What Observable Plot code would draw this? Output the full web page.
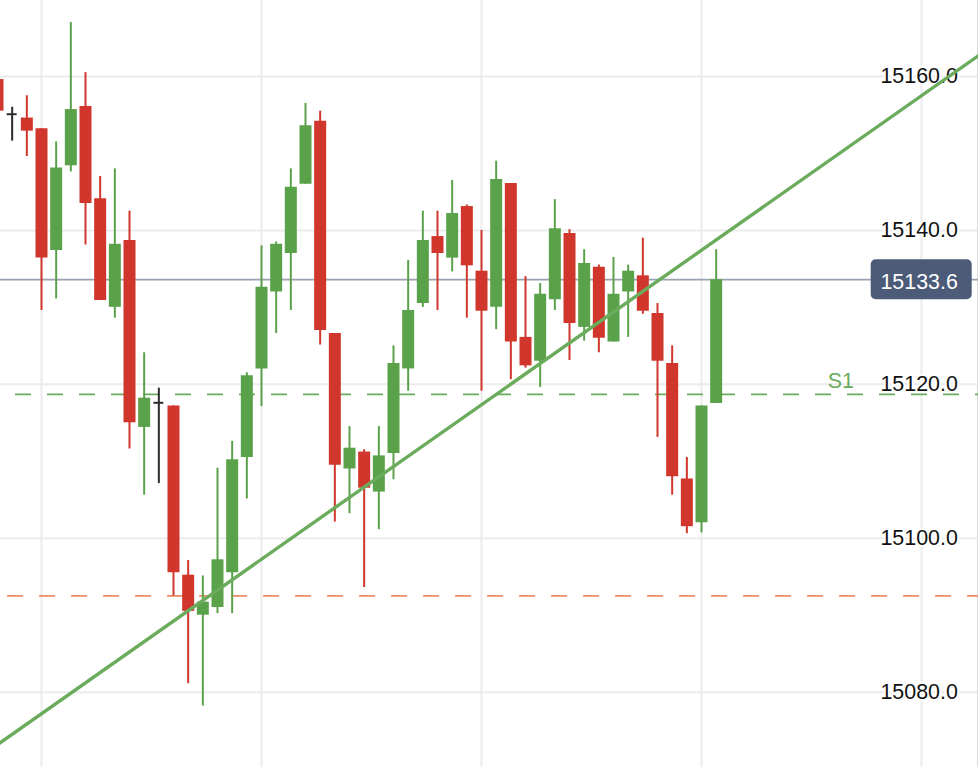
<!DOCTYPE html>
<html><head><meta charset="utf-8">
<script src="https://cdn.jsdelivr.net/npm/d3@7"></script>
<script src="https://cdn.jsdelivr.net/npm/@observablehq/plot@0.6"></script>
<style>html,body{margin:0;padding:0;background:#fff} svg{display:block}</style>
</head><body><div id="chart"></div>
<script>
// OHLC data (one candle per period, index 0..49)
const opens  = [15159.6,15155.1,15154.6,15153.2,15137.4,15148.4,15156.1,15144.1,15130.0,15138.7,
                15114.4,15117.6,15117.2,15095.2,15090.0,15091.0,15095.5,15110.5,15122.0,15132.0,
                15137.0,15146.0,15154.2,15126.6,15109.0,15111.2,15106.0,15111.0,15122.0,15130.5,
                15139.2,15136.4,15143.1,15134.7,15130.0,15146.1,15126.1,15123.0,15131.0,15139.6,
                15127.4,15135.2,15125.5,15132.0,15134.1,15129.2,15122.7,15107.7,15102.0,15117.5];
const highs  = [15159.6,15156.0,15157.5,15153.2,15151.5,15167.0,15160.5,15147.0,15148.0,15142.5,
                15124.1,15119.5,15117.2,15097.1,15095.1,15109.1,15112.6,15121.5,15138.0,15138.5,
                15148.0,15156.5,15155.5,15126.6,15114.5,15111.5,15114.5,15125.0,15136.1,15142.5,
                15142.5,15146.5,15143.3,15140.0,15149.0,15146.1,15134.0,15133.1,15144.0,15140.1,
                15137.5,15135.5,15136.5,15135.5,15139.0,15130.5,15125.0,15110.5,15117.2,15137.5];
const lows   = [15155.5,15151.6,15149.6,15129.6,15131.1,15147.6,15138.1,15130.9,15128.6,15111.6,
                15105.6,15107.1,15092.5,15081.1,15078.2,15090.2,15090.2,15105.1,15117.1,15126.6,
                15129.6,15146.0,15125.1,15102.1,15103.2,15093.6,15101.1,15107.6,15119.1,15130.0,
                15129.6,15134.6,15128.6,15119.1,15127.1,15120.6,15122.1,15119.6,15129.6,15123.1,
                15125.6,15124.1,15125.5,15126.1,15129.1,15113.1,15105.6,15100.6,15100.7,15117.5];
const closes = [15155.5,15155.1,15152.9,15136.4,15148.1,15155.7,15143.5,15130.9,15138.2,15115.0,
                15118.2,15117.6,15095.5,15090.5,15091.7,15097.2,15110.2,15121.1,15132.6,15138.2,
                15145.6,15153.6,15127.0,15109.5,15111.7,15106.5,15110.7,15122.7,15129.6,15138.7,
                15137.0,15142.2,15135.4,15129.5,15146.6,15125.5,15122.4,15131.7,15140.2,15127.9,
                15135.7,15126.0,15131.7,15134.7,15129.5,15123.0,15108.0,15101.5,15117.2,15133.6];

const yTicks = [15080, 15100, 15120, 15140, 15160];
const xGrid = [3, 18, 33, 48, 63];
const support1 = 15118.7;      // S1 level (green dashed)
const support2 = 15092.5;      // lower level (orange dashed)
const trendX = [-2, 68];       // trendline endpoints (candle index)
const trendY = [15070.5, 15164.2];
const lastPrice = closes[closes.length - 1];

const xDomain = [0.2046, 66.886];
const yDomain = [15070.21, 15169.875];

const UP = "#5aa24a", DOWN = "#d0362b", DOJI = "#2b2b2b";
const candles = opens.map((o, i) => ({
  i, open: o, high: highs[i], low: lows[i], close: closes[i],
  color: closes[i] > o ? UP : closes[i] < o ? DOWN : DOJI
}));
const dojis = candles.filter(d => d.open === d.close);
const trend = trendX.map((x, k) => ({x, y: trendY[k]}));

const font = "'Liberation Sans', Arial, Helvetica, sans-serif";

const chart = Plot.plot({
  width: 978, height: 767,
  margin: 0,
  style: {fontFamily: font, background: "#fff"},
  x: {type: "linear", domain: xDomain, axis: null},
  y: {type: "linear", domain: yDomain, axis: null},
  marks: [
    Plot.ruleX(xGrid, {stroke: "#ebebeb", strokeWidth: 2}),
    Plot.ruleY(yTicks, {stroke: "#ebebeb", strokeWidth: 2}),
    Plot.ruleX([xDomain[1]], {stroke: "#dcdcdc", strokeWidth: 1, dx: -1}),
    Plot.text(yTicks, {
      y: d => d, text: d => d.toFixed(1), frameAnchor: "right", textAnchor: "end",
      dx: -20.7, fontSize: 21.4, fill: "#111", stroke: "white", strokeWidth: 4, paintOrder: "stroke"
    }),
    Plot.ruleY([lastPrice], {stroke: "#9aa2b2", strokeWidth: 1.6}),
    Plot.ruleY([support1], {stroke: "#6aab5c", strokeWidth: 1.8, strokeDasharray: "16,16", strokeDashoffset: 17}),
    Plot.ruleY([support2], {stroke: "#ec8a64", strokeWidth: 1.8, strokeDasharray: "16,16", strokeDashoffset: 25}),
    Plot.text([support1], {
      y: d => d, text: () => "S1", frameAnchor: "right", textAnchor: "end",
      dx: -124.7, dy: -13, fontSize: 21.4, fill: "#6aab5c"
    }),
    Plot.ruleX(candles, {x: "i", y1: "low", y2: "high", stroke: "color", strokeWidth: 2}),
    Plot.ruleX(candles, {x: "i", y1: "open", y2: "close", stroke: "color", strokeWidth: 12, strokeLinecap: "butt"}),
    Plot.ruleY(dojis, {y: "close", x1: d => d.i - 0.34, x2: d => d.i + 0.34, stroke: DOJI, strokeWidth: 2}),
    Plot.line(trend, {x: "x", y: "y", stroke: "#6aab5c", strokeWidth: 3.4, clip: true}),
    Plot.rect([lastPrice], {
      y1: d => d, y2: d => d, insetTop: -20, insetBottom: -20,
      insetLeft: 870.7, insetRight: 6.3, rx: 5, fill: "#4b5b78"
    }),
    Plot.text([lastPrice], {
      y: d => d, text: d => d.toFixed(1), frameAnchor: "right", textAnchor: "end",
      dx: -20.7, dy: 2, fontSize: 21.4, fill: "white"
    })
  ]
});
document.getElementById("chart").appendChild(chart);
</script>
</body></html>
